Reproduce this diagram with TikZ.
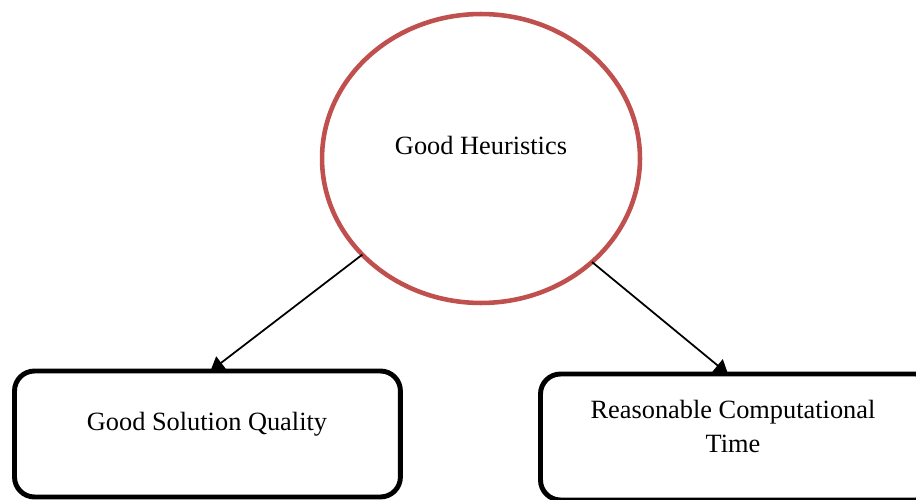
\documentclass[tikz,border=0pt]{standalone}
\usepackage{fontspec}
\setmainfont{Liberation Serif}
\usetikzlibrary{arrows.meta,shapes.geometric}
\definecolor{heurred}{HTML}{C0504D}
\begin{document}
\begin{tikzpicture}[x=0.02cm,y=-0.02cm,
  heur/.style={draw=heurred,line width=2.6pt,ellipse,minimum width=6.36cm,minimum height=5.78cm,inner sep=0pt,outer sep=0pt},
  goalbox/.style={draw=black,line width=2.8pt,rounded corners=0.4cm,minimum width=#1,minimum height=2.52cm,inner sep=0pt,outer sep=0pt},
  lbl/.style={font=\fontsize{15}{19}\selectfont,align=center,inner sep=0pt},
  conn/.style={line width=1pt,-{Triangle[width=0.32cm,length=0.27cm]}}]
\useasboundingbox (0,0) rectangle (916,500);
\node[heur] (h) at (481,158.5) {};
\node[lbl] (ht) at (481,145) {Good Heuristics};
\node[goalbox=7.72cm,anchor=north west] (lb) at (14.5,371) {};
\node[goalbox=7.9cm,anchor=north west] (rb) at (540.5,374) {};
\node[lbl] (lt) at (207,424.5) {Good Solution Quality};
\node[lbl] (rt) at (733,426.5) {Reasonable Computational\\Time};
\draw[conn] (h.219) -- ([xshift=0.06cm]lb.north);
\draw[conn] (h.317) -- (rb.north -| 728,0);
\end{tikzpicture}
\end{document}
